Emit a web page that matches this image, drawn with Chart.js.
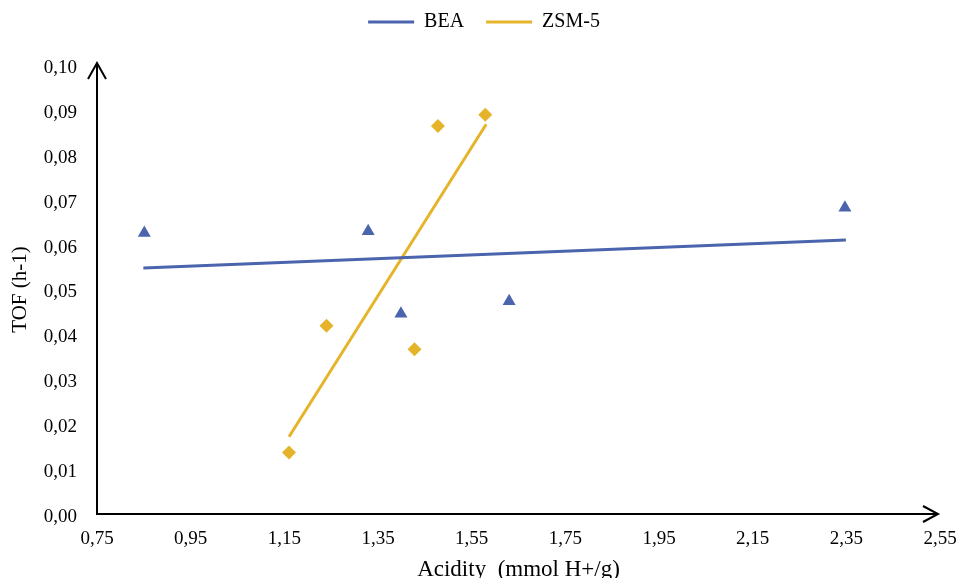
<!DOCTYPE html>
<html><head><meta charset="utf-8">
<script src="https://cdn.jsdelivr.net/npm/chart.js@4.4.0/dist/chart.umd.min.js"></script>
<style>html,body{margin:0;padding:0;background:#fff}#wrap{width:957px;height:578px}</style>
</head><body><div id="wrap"><canvas id="c" width="957" height="578"></canvas></div>
<script>
// ---- data ----
const seriesNames = ['BEA', 'ZSM-5'];
const beaAcidity = [0.851, 1.329, 1.399, 1.630, 2.347];
const beaTOF     = [0.0626, 0.0630, 0.0446, 0.0474, 0.0682];
const zsmAcidity = [1.160, 1.240, 1.428, 1.478, 1.579];
const zsmTOF     = [0.0137, 0.0419, 0.0367, 0.0864, 0.0889];
const beaTrendX  = [0.849, 2.349];
const beaTrendY  = [0.0548, 0.0610];
const zsmTrendX  = [1.160, 1.581];
const zsmTrendY  = [0.0172, 0.0868];
const xTicks = [0.75, 0.95, 1.15, 1.35, 1.55, 1.75, 1.95, 2.15, 2.35, 2.55];
const yTicks = [0.00, 0.01, 0.02, 0.03, 0.04, 0.05, 0.06, 0.07, 0.08, 0.09, 0.10];
const xTitle = 'Acidity  (mmol H+/g)';
const yTitle = 'TOF (h-1)';

const BLUE = '#4a64ad';
const GOLD = '#e6b42a';
const FONT = "'Liberation Serif', 'Times New Roman', serif";

const toPts = (xs, ys) => xs.map((x, i) => ({x: x, y: ys[i]}));
const fmt = (v, d) => Number(v).toFixed(d).replace('.', ',');

const axisArrows = {
  id: 'axisArrows',
  afterLayout(chart) {
    if (chart.legend) { chart.legend.left += 28; }
  },
  afterDatasetsDraw(chart) {
    const {ctx, chartArea: a} = chart;
    ctx.save();
    ctx.strokeStyle = '#000';
    ctx.lineWidth = 2;
    ctx.lineJoin = 'miter';
    ctx.beginPath();
    ctx.moveTo(a.left, a.top - 2);
    ctx.lineTo(a.left, a.bottom);
    ctx.lineTo(a.right - 2, a.bottom);
    ctx.stroke();
    ctx.beginPath();
    ctx.moveTo(a.left - 9, a.top + 14);
    ctx.lineTo(a.left, a.top - 2);
    ctx.lineTo(a.left + 9, a.top + 14);
    ctx.stroke();
    ctx.beginPath();
    ctx.moveTo(a.right - 17, a.bottom - 8);
    ctx.lineTo(a.right - 2, a.bottom);
    ctx.lineTo(a.right - 17, a.bottom + 8);
    ctx.stroke();
    ctx.restore();
  }
};

new Chart(document.getElementById('c'), {
  type: 'scatter',
  data: {
    datasets: [
      { label: seriesNames[0], data: toPts(beaTrendX, beaTrendY), showLine: true,
        borderColor: BLUE, backgroundColor: BLUE, borderWidth: 3, pointRadius: 0, order: 2 },
      { label: seriesNames[1], data: toPts(zsmTrendX, zsmTrendY), showLine: true,
        borderColor: GOLD, backgroundColor: GOLD, borderWidth: 3, pointRadius: 0, order: 2 },
      { label: seriesNames[0] + ' data', data: toPts(beaAcidity, beaTOF), pointStyle: 'triangle',
        pointRadius: 7.5, borderWidth: 0, backgroundColor: BLUE, borderColor: BLUE, order: 1 },
      { label: seriesNames[1] + ' data', data: toPts(zsmAcidity, zsmTOF), pointStyle: 'rectRot',
        pointRadius: 7, borderWidth: 0, backgroundColor: GOLD, borderColor: GOLD, order: 1 }
    ]
  },
  options: {
    responsive: false,
    animation: false,
    devicePixelRatio: 1,
    layout: { padding: { top: -10, right: 17, left: 0, bottom: 0 } },
    plugins: {
      tooltip: { enabled: false },
      title: { display: true, text: '', weight: 500, font: { size: 10, lineHeight: 1 }, padding: { top: 13, bottom: 0 } },
      legend: {
        display: true,
        position: 'top',
        labels: {
          font: { family: FONT, size: 20 },
          color: '#000',
          padding: 22,
          usePointStyle: true,
          pointStyleWidth: 46,
          generateLabels(chart) {
            return [0, 1].map(i => ({
              text: seriesNames[i],
              fillStyle: chart.data.datasets[i].borderColor,
              strokeStyle: chart.data.datasets[i].borderColor,
              lineWidth: 3,
              pointStyle: 'line',
              hidden: false,
              datasetIndex: i,
              fontColor: '#000'
            }));
          }
        }
      }
    },
    scales: {
      x: {
        type: 'linear',
        min: xTicks[0], max: xTicks[xTicks.length - 1],
        afterBuildTicks(s) { s.ticks = xTicks.map(v => ({value: v})); },
        afterFit(s) { s.height = 64; s.paddingRight = 0; s.paddingLeft = 0; },
        grid: { display: false, drawTicks: false },
        border: { display: false },
        ticks: { font: { family: FONT, size: 19 }, color: '#000', padding: 14, maxRotation: 0,
                 callback: v => fmt(v, 2) },
        title: { display: true, text: xTitle, color: '#000',
                 font: { family: FONT, size: 23, lineHeight: 1 }, padding: { top: 0, bottom: -3 } }
      },
      y: {
        type: 'linear',
        min: yTicks[0], max: yTicks[yTicks.length - 1],
        afterBuildTicks(s) { s.ticks = yTicks.map(v => ({value: v})); },
        afterFit(s) { s.width = 97; },
        grid: { display: false, drawTicks: false },
        border: { display: false },
        ticks: { font: { family: FONT, size: 19 }, color: '#000', padding: 20, labelOffset: 3,
                 callback: v => fmt(v, 2) },
        title: { display: true, text: yTitle, color: '#000',
                 font: { family: FONT, size: 21, lineHeight: 1.2 }, padding: { top: 8, bottom: 0 } }
      }
    }
  },
  plugins: [axisArrows]
});
</script></body></html>
